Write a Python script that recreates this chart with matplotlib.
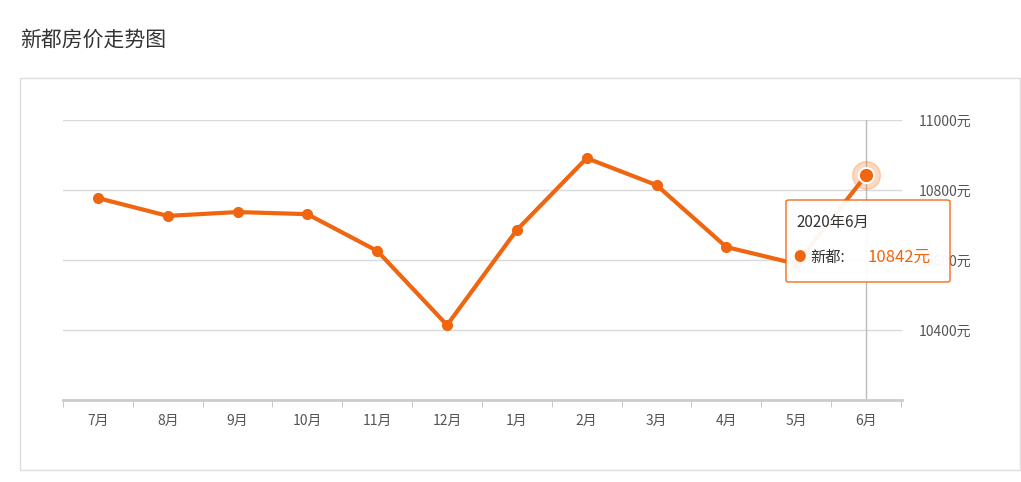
import matplotlib
matplotlib.use('Agg')
import matplotlib.pyplot as plt
from matplotlib.patches import FancyBboxPatch, Rectangle

plt.rcParams['font.family'] = ['Noto Sans CJK SC', 'DejaVu Sans']

months = ['7月', '8月', '9月', '10月', '11月', '12月', '1月', '2月', '3月', '4月', '5月', '6月']
prices = [10777, 10726, 10737, 10731, 10626, 10414, 10686, 10891, 10814, 10637, 10589, 10842]
yticks = [10400, 10600, 10800, 11000]
orange = '#f0650f'

fig = plt.figure(figsize=(10.21, 4.82), dpi=100)
fig.text(20/1021, 1-40/482, '新都房价走势图', fontsize=15, color='#333333', va='center')
fig.patches.append(Rectangle((20/1021, 1-470/482), 1000/1021, 392/482, transform=fig.transFigure,
                             fill=False, edgecolor='#dddddd', lw=1))

ax = fig.add_axes([63/1021, 1-400/482, 839/1021, 280/482])
x = list(range(len(months)))
ax.plot(x, prices, color=orange, lw=3, marker='o', ms=7, zorder=3)
ax.plot(x[-1], prices[-1], 'o', ms=20, color=orange, alpha=0.25, zorder=4)
ax.plot(x[-1], prices[-1], 'o', ms=11, color=orange, mec='white', mew=1.5, zorder=5)
ax.axvline(x[-1], color='#bbbbbb', lw=1, zorder=1)
ax.set_xlim(-0.486, 11.515)
ax.set_ylim(10200, 11000)
for v in yticks:
    ax.axhline(v, color='#d9d9d9', lw=1, zorder=0)
ax.yaxis.tick_right()
ax.set_yticks(yticks)
ax.set_yticklabels([f'{v}元' for v in yticks])
ax.set_xticks(x)
ax.set_xticklabels(months)
ax.set_xticks([i + 0.5 for i in range(-1, 12)], minor=True)
ax.tick_params(axis='x', which='major', length=0, pad=10, labelsize=10, colors='#555555')
ax.tick_params(axis='x', which='minor', length=5, color='#bbbbbb')
ax.tick_params(axis='y', length=0, pad=12, labelsize=10, colors='#555555')
for s in ['top', 'left', 'right']:
    ax.spines[s].set_visible(False)
ax.spines['bottom'].set_color('#cccccc')
ax.spines['bottom'].set_linewidth(2)

# tooltip
bx, by, bw, bh = 786/1021, 1-282/482, 164/1021, 82/482
fig.patches.append(FancyBboxPatch((bx, by), bw, bh, boxstyle='round,pad=0,rounding_size=0.003',
                                  transform=fig.transFigure, facecolor='white', edgecolor=orange,
                                  lw=1, alpha=0.95, zorder=10))
fig.text(796/1021, 1-222/482, '2020年6月', fontsize=11, color='#333333', va='center', zorder=11)
fig.text(800/1021, 1-257/482, '●', fontsize=9, color=orange, va='center', ha='center', zorder=11)
fig.text(810/1021, 1-257/482, '新都:', fontsize=11, color='#333333', va='center', zorder=11)
fig.text(867/1021, 1-257/482, f'{prices[-1]}元', fontsize=12, color=orange, va='center', zorder=11)

fig.savefig('out.png', dpi=100)
